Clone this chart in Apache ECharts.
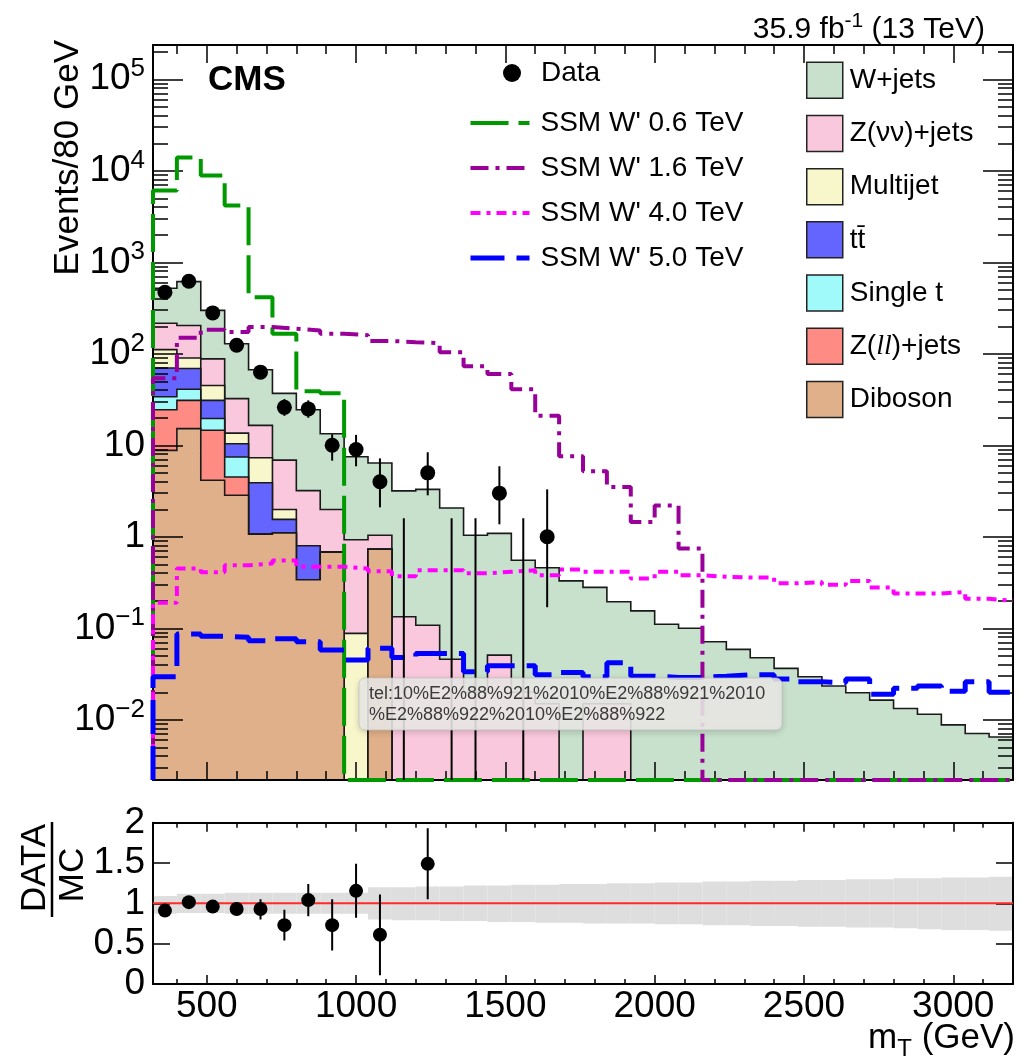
<!DOCTYPE html>
<html>
<head>
<meta charset="utf-8">
<title>mT spectrum</title>
<script src="https://cdn.jsdelivr.net/npm/echarts@6.0.0/dist/echarts.min.js"></script>
<style>
  html, body { margin: 0; padding: 0; background: #fff; }
  #main { width: 1021px; height: 1059px; }
</style>
</head>
<body>
<div id="main"></div>
<script>
// bin edges in GeV (80 GeV bins)
var binEdges = [320,400,480,560,640,720,800,880,960,1040,1120,1200,1280,1360,1440,1520,1600,1680,1760,
  1840,1920,2000,2080,2160,2240,2320,2400,2480,2560,2640,2720,2800,2880,2960,3040,3120,3200];

// backgrounds, events per bin
var wjets = [304,411,210,96.6,50.5,30.1,21.3,11.4,6.57,5.36,3.04,3.19,2.02,1.02,1.04,0.535,0.445,0.33,0.265,0.18,
  0.155,0.111,0.100,0.0713,0.0589,0.0477,0.0365,0.0296,0.0234,0.0198,0.0164,0.0133,0.0115,0.0088,0.0071,0.0065];
var znunu = [105,114,43,18.8,9.2,4.9,2.4,1.31,0.84,0.31,0.134,0.108,0.046,0.02,0.051,0.02,0.015,0,0.015,0.015,
  0,0,0,0,0,0,0,0,0,0,0,0,0,0,0,0];
var multijet = [41,21,14,3.2,3.4,0.44,0,0,0.088,0,0,0,0,0,0,0,0,0,0,0,0,0,0,0,0,0,0,0,0,0,0,0,0,0,0,0];
var ttbar = [36,28,11.4,2.95,2.83,0.45,0.46,0,0,0,0,0,0,0,0,0,0,0,0,0,0,0,0,0,0,0,0,0,0,0,0,0,0,0,0,0];
var singlet = [9.5,10,5,2.95,0,0,0,0,0,0,0,0,0,0,0,0,0,0,0,0,0,0,0,0,0,0,0,0,0,0,0,0,0,0,0,0];
var zll = [15.7,15.8,10.45,1.65,0,0,0,0,0,0,0,0,0,0,0,0,0,0,0,0,0,0,0,0,0,0,0,0,0,0,0,0,0,0,0,0];
var diboson = [8.8,15.2,4.15,2.85,1.07,1.10,0.34,0.68,0,0.73,0,0,0,0,0,0,0,0,0,0,0,0,0,0,0,0,0,0,0,0,0,0,0,0,0,0];

// signals
var sig06 = [6080,14000,8870,4170,416,166,39,37,0,0,0,0,0,0,0,0,0,0,0,0,0,0,0,0,0,0,0,0,0,0,0,0,0,0,0,0];
var sig16 = [54,150,183,173,196,188,180,166,160,138,134,131,104,73,60,41,21,7.6,5.2,3.5,1.45,2.2,0.745,
  0,0,0,0,0,0,0,0,0,0,0,0,0];
var sig40 = [0.19,0.45,0.41,0.49,0.51,0.55,0.47,0.47,0.45,0.42,0.37,0.43,0.43,0.40,0.415,0.43,0.38,0.44,0.415,
  0.415,0.35,0.415,0.38,0.365,0.36,0.36,0.31,0.32,0.30,0.33,0.28,0.24,0.24,0.25,0.21,0.20];
var sig50 = [0.0296,0.0865,0.082,0.080,0.073,0.077,0.0713,0.058,0.045,0.0605,0.048,0.053,0.053,0.0335,0.039,
  0.039,0.031,0.033,0.0296,0.042,0.030,0.0291,0.0291,0.030,0.031,0.031,0.028,0.026,0.0255,0.028,0.019,0.0221,
  0.0234,0.0205,0.026,0.020];

// data (bin centres up to 1640 GeV)
var dataMt = [360,440,520,600,680,760,840,920,1000,1080,1160,1240,1320,1400,1480,1560,1640];
var dataCounts = [470,620,280,124,63,26,25,10,9,4,0,5,0,0,3,0,1];
var dataLow = [449,595,263,113,55,21,20,6.8,5.9,2.1,0,2.84,0,0,1.37,0,0.17];
var dataHigh = [492,645,297,136,71,32,31,13.2,13.0,7.2,1.6,8.4,1.6,1.6,5.9,1.6,3.3];

// ratio panel
var ratioMt = [360,440,520,600,680,760,840,920,1000,1080,1240];
var ratioVal = [0.91,1.015,0.96,0.93,0.93,0.73,1.04,0.73,1.155,0.61,1.49];
var ratioLow = [0.87,0.97,0.90,0.86,0.80,0.54,0.84,0.415,0.82,0.11,1.05];
var ratioHigh = [0.95,1.06,1.02,1.01,1.05,0.92,1.24,1.05,1.49,1.11,1.93];
var bandLow = [0.87,0.88,0.88,0.87,0.87,0.87,0.87,0.87,0.87,0.80,0.79,0.79,0.78,0.78,0.77,0.77,0.76,0.76,
  0.75,0.75,0.75,0.74,0.74,0.73,0.73,0.72,0.72,0.71,0.71,0.70,0.70,0.69,0.68,0.67,0.67,0.66];
var bandHigh = [1.09,1.12,1.12,1.13,1.13,1.13,1.13,1.13,1.13,1.20,1.20,1.21,1.21,1.22,1.22,1.23,1.23,1.24,
  1.24,1.25,1.25,1.26,1.26,1.27,1.27,1.28,1.28,1.29,1.29,1.30,1.30,1.31,1.31,1.32,1.32,1.33];

// ticks
var xMajorTicks = [500,1000,1500,2000,2500,3000];
var xMinorTicks = [400,500,600,700,800,900,1000,1100,1200,1300,1400,1500,1600,1700,1800,1900,2000,2100,
  2200,2300,2400,2500,2600,2700,2800,2900,3000,3100];
var yMajorTicks = [0.01,0.1,1,10,100,1000,10000,100000];

var FONT = '"Liberation Sans", Arial, Helvetica, sans-serif';
var X_MIN = 320, X_MAX = 3200;
var Y_MIN = 0.0022, Y_MAX = 2.37e5;

var yMinorTicks = [];
for (var e = -3; e <= 5; e++) {
  for (var m = 2; m <= 9; m++) {
    var v = Number((m * Math.pow(10, e)).toPrecision(3));
    if (v > Y_MIN && v < Y_MAX) yMinorTicks.push(v);
  }
}

function floorLog(v) { return v > Y_MIN ? v : Y_MIN; }

var bkgs = [
  {name: 'Diboson', values: diboson, color: '#e0b08a'},
  {name: 'Z(ll)+jets', values: zll, color: '#ff8c84'},
  {name: 'Single t', values: singlet, color: '#a0fafa'},
  {name: 'tt\u0304', values: ttbar, color: '#6464ff'},
  {name: 'Multijet', values: multijet, color: '#f8f6cb'},
  {name: 'Z(\u03bd\u03bd)+jets', values: znunu, color: '#fac8dc'},
  {name: 'W+jets', values: wjets, color: '#c8e1cc'}
];
// stack from the bottom up
var running = binEdges.slice(1).map(function(){ return 0; });
bkgs.forEach(function(b){
  b.top = b.values.map(function(v, i){ running[i] += v; return running[i]; });
});

var signals = [
  {name: "SSM W' 0.6 TeV", values: sig06, color: '#009900', width: 4, dash: [38, 10]},
  {name: "SSM W' 1.6 TeV", values: sig16, color: '#990099', width: 4, dash: [18, 7, 4, 7]},
  {name: "SSM W' 4.0 TeV", values: sig40, color: '#ff00ff', width: 4, dash: [10, 6, 4, 6]},
  {name: "SSM W' 5.0 TeV", values: sig50, color: '#0000ff', width: 5, dash: [34, 12]}
];

function stepData(vals) {
  var d = [[binEdges[0], Y_MIN]];
  for (var i = 0; i < vals.length; i++) d.push([binEdges[i], floorLog(vals[i])]);
  d.push([binEdges[vals.length], floorLog(vals[vals.length - 1])]);
  return d;
}

function histSeries(b) {
  return {
    name: b.name, type: 'custom', xAxisIndex: 0, yAxisIndex: 0, z: 2, clip: true, silent: true,
    itemStyle: {color: b.color},
    data: [[X_MIN, 1]],
    renderItem: function(params, api){
      var pts = [api.coord([binEdges[0], Y_MIN])];
      for (var i = 0; i < b.top.length; i++) {
        var y = floorLog(b.top[i]);
        pts.push(api.coord([binEdges[i], y]));
        pts.push(api.coord([binEdges[i + 1], y]));
      }
      pts.push(api.coord([binEdges[binEdges.length - 1], Y_MIN]));
      return {type: 'polygon', shape: {points: pts}, style: {fill: b.color, stroke: '#1a1a1a', lineWidth: 1.6}};
    }
  };
}

function errBarSeries(rows, xi, yi, clampLow) {
  return {
    type: 'custom', xAxisIndex: xi, yAxisIndex: yi, z: 5, clip: true, silent: true,
    data: rows,
    encode: {x: 0, y: [1, 2]},
    renderItem: function(params, api){
      var x = api.value(0);
      var lo = api.value(1);
      if (clampLow) lo = floorLog(lo);
      var p1 = api.coord([x, lo]), p2 = api.coord([x, api.value(2)]);
      return {type: 'line', shape: {x1: p1[0], y1: p1[1], x2: p2[0], y2: p2[1]},
        style: {stroke: '#000', lineWidth: 2}};
    }
  };
}

function xAx(grid, pos, ticks, len, line, labels) {
  return {
    type: 'value', gridIndex: grid, position: pos, min: X_MIN, max: X_MAX, z: 3,
    axisLine: {show: line, onZero: false, lineStyle: {color: '#000', width: 2}},
    axisTick: {show: true, inside: true, length: len, customValues: ticks, lineStyle: {color: '#000', width: 1.5}},
    axisLabel: labels ? {show: true, customValues: xMajorTicks, fontSize: 37, color: '#000', margin: 4,
                         fontFamily: FONT, formatter: function(v){ return String(v); }}
                      : {show: false},
    splitLine: {show: false}
  };
}

function logLabel(v) {
  var ex = Math.round(Math.log(v) / Math.LN10);
  if (ex === 0) return '{b|1}';
  if (ex === 1) return '{b|10}';
  return '{b|10}{s|' + (ex < 0 ? '\u2212' + (-ex) : ex) + '}';
}

function yLogAx(pos, ticks, len, line, labels) {
  return {
    type: 'log', logBase: 10, gridIndex: 0, position: pos, min: Y_MIN, max: Y_MAX, z: 3,
    axisLine: {show: line, lineStyle: {color: '#000', width: 2}},
    axisTick: {show: true, inside: true, length: len, customValues: ticks, lineStyle: {color: '#000', width: 1.5}},
    axisLabel: labels ? {
      show: true, customValues: yMajorTicks, formatter: logLabel, margin: 8,
      rich: {
        b: {fontSize: 37, lineHeight: 46, fontFamily: FONT, color: '#000'},
        s: {fontSize: 26, lineHeight: 26, verticalAlign: 'top', fontFamily: FONT, color: '#000'}
      }
    } : {show: false},
    splitLine: {show: false}
  };
}

function yRatioAx(pos, labels) {
  return {
    type: 'value', gridIndex: 1, position: pos, min: 0, max: 2, interval: 0.5, z: 3,
    axisLine: {show: true, lineStyle: {color: '#000', width: 2}},
    axisTick: {show: true, inside: true, length: 17, lineStyle: {color: '#000', width: 1.5}},
    axisLabel: labels ? {show: true, fontSize: 37, color: '#000', margin: 8, fontFamily: FONT} : {show: false},
    splitLine: {show: false}
  };
}

var series = [];
bkgs.slice().reverse().forEach(function(b){ series.push(histSeries(b)); });

signals.forEach(function(s){
  series.push({
    name: s.name, type: 'line', xAxisIndex: 0, yAxisIndex: 0, z: 4, step: 'end',
    symbol: 'none', clip: true, silent: true,
    lineStyle: {color: s.color, width: s.width, type: s.dash},
    itemStyle: {color: s.color},
    data: stepData(s.values)
  });
});

var dataPts = [], dataErr = [];
dataMt.forEach(function(x, i){
  if (dataCounts[i] > 0) dataPts.push([x, dataCounts[i]]);
  dataErr.push([x, dataLow[i], dataHigh[i]]);
});
series.push(errBarSeries(dataErr, 0, 0, true));
series.push({
  name: 'Data', type: 'scatter', xAxisIndex: 0, yAxisIndex: 0, z: 6, silent: true,
  symbol: 'circle', symbolSize: 15, itemStyle: {color: '#000', opacity: 1}, data: dataPts
});

// ratio panel
var bandRows = bandLow.map(function(lo, i){ return [binEdges[i], binEdges[i + 1], lo, bandHigh[i]]; });
series.push({
  type: 'custom', xAxisIndex: 4, yAxisIndex: 4, z: 2, clip: true, silent: true,
  data: bandRows, encode: {x: [0, 1], y: [2, 3]},
  renderItem: function(params, api){
    var p1 = api.coord([api.value(0), api.value(3)]);
    var p2 = api.coord([api.value(1), api.value(2)]);
    return {type: 'rect', shape: {x: p1[0], y: p1[1], width: p2[0] - p1[0], height: p2[1] - p1[1]},
      style: {fill: '#dedede'}};
  }
});
series.push({
  type: 'line', xAxisIndex: 4, yAxisIndex: 4, z: 3, symbol: 'none', silent: true,
  lineStyle: {color: '#ff2a2a', width: 2}, data: [[X_MIN, 1], [X_MAX, 1]]
});
var ratioPts = [], ratioErr = [];
ratioMt.forEach(function(x, i){
  ratioPts.push([x, ratioVal[i]]);
  ratioErr.push([x, ratioLow[i], ratioHigh[i]]);
});
series.push(errBarSeries(ratioErr, 4, 4, false));
series.push({
  type: 'scatter', xAxisIndex: 4, yAxisIndex: 4, z: 6, silent: true,
  symbol: 'circle', symbolSize: 14, itemStyle: {color: '#000', opacity: 1}, data: ratioPts
});

var legendText = {fontSize: 28, lineHeight: 30, color: '#000', fontFamily: FONT,
  rich: {it: {fontSize: 28, fontStyle: 'italic', fontFamily: '"Liberation Serif", serif'}}};

var option = {
  animation: false,
  backgroundColor: '#fff',
  textStyle: {fontFamily: FONT},
  grid: [
    {left: 153, right: 8, top: 45, height: 735, outerBoundsMode: 'none'},
    {left: 153, right: 8, top: 822.7, height: 161.3, outerBoundsMode: 'none'}
  ],
  xAxis: [
    xAx(0, 'bottom', xMajorTicks, 18, true, false),
    xAx(0, 'bottom', xMinorTicks, 9, false, false),
    xAx(0, 'top', xMajorTicks, 18, true, false),
    xAx(0, 'top', xMinorTicks, 9, false, false),
    xAx(1, 'bottom', xMajorTicks, 9, true, true),
    xAx(1, 'bottom', xMinorTicks, 5, false, false),
    xAx(1, 'top', xMajorTicks, 9, true, false),
    xAx(1, 'top', xMinorTicks, 5, false, false)
  ],
  yAxis: [
    yLogAx('left', yMajorTicks, 30, true, true),
    yLogAx('left', yMinorTicks, 15, false, false),
    yLogAx('right', yMajorTicks, 30, true, false),
    yLogAx('right', yMinorTicks, 15, false, false),
    yRatioAx('left', true),
    yRatioAx('right', false)
  ],
  legend: [
    {
      orient: 'vertical', left: 503, top: 58, padding: 0, itemWidth: 18, itemHeight: 18,
      selectedMode: false, textStyle: Object.assign({padding: [0, 0, 0, 15]}, legendText),
      data: [{name: 'Data', icon: 'circle', itemStyle: {color: '#000', opacity: 1}}]
    },
    {
      orient: 'vertical', left: 468, top: 108, padding: 0, itemWidth: 59, itemHeight: 14, itemGap: 15,
      selectedMode: false, textStyle: Object.assign({padding: [0, 0, 0, 6]}, legendText),
      data: signals.map(function(s){
        return {name: s.name, itemStyle: {opacity: 0},
          lineStyle: {color: s.color, width: s.width, type: s.dash}};
      })
    },
    {
      orient: 'vertical', left: 806, top: 61.5, padding: 0, itemWidth: 36, itemHeight: 36, itemGap: 15.7,
      selectedMode: false, textStyle: Object.assign({padding: [0, 0, 0, 2]}, legendText),
      formatter: function(name){ return name === 'Z(ll)+jets' ? 'Z({it|ll})+jets' : name; },
      data: bkgs.slice().reverse().map(function(b){
        return {name: b.name, icon: 'rect', itemStyle: {color: b.color, borderColor: '#222', borderWidth: 1.5}};
      })
    }
  ],
  graphic: [
    {type: 'text', x: 208, y: 80, z: 50, style: {text: 'CMS', font: 'bold 35px ' + FONT, fill: '#000',
      textAlign: 'left', textVerticalAlign: 'middle'}},
    {type: 'text', x: 985, y: 30, z: 50, style: {
      text: '{a|35.9 fb}{s|-1}{a| (13 TeV)}', textAlign: 'right', textVerticalAlign: 'middle', fill: '#000',
      rich: {a: {fontSize: 30, lineHeight: 38, fontFamily: FONT}, s: {fontSize: 21, lineHeight: 21, verticalAlign: 'top', fontFamily: FONT}}}},
    {type: 'text', x: 68, y: 40, z: 50, rotation: Math.PI / 2, style: {text: 'Events/80 GeV', font: '35px ' + FONT,
      fill: '#000', textAlign: 'right', textVerticalAlign: 'middle'}},
    {type: 'text', x: 35, y: 868, z: 50, rotation: Math.PI / 2, style: {text: 'DATA', font: '35px ' + FONT,
      fill: '#000', textAlign: 'center', textVerticalAlign: 'middle'}},
    {type: 'line', z: 50, shape: {x1: 52, y1: 822, x2: 52, y2: 917}, style: {stroke: '#000', lineWidth: 2.5}},
    {type: 'text', x: 73.5, y: 875, z: 50, rotation: Math.PI / 2, style: {text: 'MC', font: '35px ' + FONT,
      fill: '#000', textAlign: 'center', textVerticalAlign: 'middle'}},
    {type: 'text', x: 1015, y: 1038, z: 50, style: {
      text: '{a|m}{t|T}{a| (GeV)}', textAlign: 'right', textVerticalAlign: 'middle', fill: '#000',
      rich: {a: {fontSize: 35, lineHeight: 46, fontFamily: FONT}, t: {fontSize: 24, lineHeight: 26, verticalAlign: 'bottom', fontFamily: FONT}}}},
    // the browser's link pop-up that sits over the plot in the reference
    {type: 'rect', z: 60, shape: {x: 359, y: 678, width: 423, height: 52, r: 6},
      style: {fill: 'rgba(236,234,232,0.88)', stroke: 'rgba(190,190,190,0.7)', lineWidth: 1,
        shadowBlur: 6, shadowColor: 'rgba(0,0,0,0.18)', shadowOffsetY: 2}},
    {type: 'text', z: 61, x: 369, y: 694, style: {text: 'tel:10%E2%88%921%2010%E2%88%921%2010', font: '18px ' + FONT,
      fill: '#3a3a3a', textAlign: 'left', textVerticalAlign: 'middle'}},
    {type: 'text', z: 61, x: 369, y: 715, style: {text: '%E2%88%922%2010%E2%88%922', font: '18px ' + FONT,
      fill: '#3a3a3a', textAlign: 'left', textVerticalAlign: 'middle'}}
  ],
  series: series
};

var myChart = echarts.init(document.getElementById('main'), null, {renderer: 'canvas'});
myChart.setOption(option);
</script>
</body>
</html>
